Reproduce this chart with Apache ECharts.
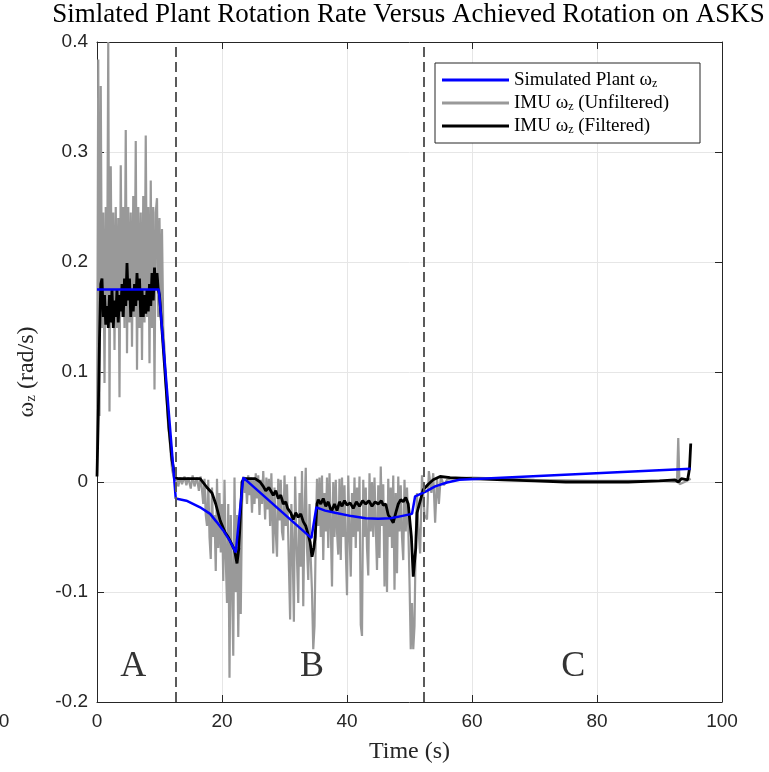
<!DOCTYPE html>
<html><head><meta charset="utf-8">
<script src="https://cdn.jsdelivr.net/npm/echarts@6/dist/echarts.min.js"></script>
<style>html,body{margin:0;padding:0;background:#fff}#c{width:769px;height:772px}</style>
</head><body><div id="c"></div>
<script>
const titleText = 'Simlated Plant Rotation Rate Versus Achieved Rotation on ASKS';
const xAxisTitle = 'Time (s)';
const yAxisTitle = ['ω', 'z', ' (rad/s)'];
const seriesNames = ['Simulated Plant', 'IMU Unfiltered', 'IMU Filtered'];
const legendTexts = [['Simulated Plant ', 'ω', 'z', ''], ['IMU ', 'ω', 'z', ' (Unfiltered)'], ['IMU ', 'ω', 'z', ' (Filtered)']];
const xRange = [0, 100, 20];
const yRange = [-0.2, 0.4, 0.1];
const phaseTimes = [12.6, 52.3];
const regionLabels = ['A', 'B', 'C'];
const regionLabelTime = [5.8, 34.4, 76.2];
const regionLabelValue = [-0.168, -0.168, -0.168];

const plantData = [[0,0.175],[9.9,0.175],[12.6,-0.015],[14.3,-0.017],[16.5,-0.023],[18.1,-0.029],[19.1,-0.036],[20.2,-0.044],[21.2,-0.053],[22.2,-0.064],[23.4,0.004],[34.3,-0.051],[35.1,-0.023],[36.5,-0.026],[38.1,-0.028],[40.7,-0.031],[43,-0.033],[45,-0.0335],[47,-0.033],[48.7,-0.031],[50.4,-0.029],[50.9,-0.013],[52.5,-0.009],[54.1,-0.004],[56,-0.0005],[58,0.002],[95,0.012]];

const rawData = [[0,0.02],[0.2,0.384],[0.4,0.06],[0.6,0.36],[0.8,0.14],[1.0,0.245],[1.2,0.09],[1.4,0.25],[1.6,0.15],[1.8,0.40],[2.0,0.064],[2.2,0.287],[2.4,0.145],[2.6,0.245],[2.8,0.12],[3.0,0.25],[3.2,0.14],[3.4,0.24],[3.6,0.077],[3.8,0.288],[4.0,0.15],[4.2,0.25],[4.4,0.14],[4.6,0.32],[4.8,0.117],[5.0,0.25],[5.2,0.145],[5.4,0.245],[5.6,0.123],[5.8,0.26],[6.0,0.15],[6.2,0.31],[6.4,0.102],[6.6,0.25],[6.8,0.14],[7.0,0.245],[7.2,0.111],[7.4,0.26],[7.6,0.145],[7.8,0.315],[8.0,0.15],[8.2,0.25],[8.4,0.108],[8.6,0.274],[8.8,0.14],[9.0,0.25],[9.2,0.084],[9.4,0.245],[9.6,0.258],[9.8,0.15],[10.0,0.24],[10.2,0.15],[10.4,0.23],[10.6,0.14],[10.8,0.12],[11.0,0.09],[11.2,0.07],[11.4,0.05],[11.6,0.04],[11.8,0.025],[12.0,0.012],[12.2,0.006],[12.4,0.002],
[12.8,0.002],[13.0,-0.004],[13.3,0.004],[13.6,-0.002],[14.0,0.005],[14.3,-0.003],[14.6,0.004],[15.0,-0.006],[15.3,0.006],[15.6,-0.004],[16.0,0.004],[16.3,-0.008],[16.6,0.005],
[17.0,-0.02],[17.2,0.003],[17.4,-0.03],[17.6,-0.04],[17.8,0.002],[18.0,-0.05],[18.2,-0.07],[18.4,-0.005],[18.6,-0.05],[18.8,-0.03],[19.0,-0.081],[19.2,0.003],[19.4,-0.06],[19.6,-0.01],[19.8,-0.064],[20.0,-0.02],[20.2,-0.09],[20.4,0.002],[20.6,-0.07],[20.8,-0.11],[21.0,-0.02],[21.2,-0.178],[21.4,-0.03],[21.6,-0.09],[21.8,-0.158],[22.0,0.004],[22.2,-0.10],[22.4,-0.03],[22.6,-0.141],[22.8,-0.06],[23.0,-0.12],[23.2,-0.02],
[23.4,0.005],[23.6,-0.01],[23.8,0.004],[24.0,-0.02],[24.2,0.006],[24.4,-0.012],[24.6,0.004],[24.8,-0.028],[25.0,0.003],[25.2,-0.02],[25.4,0.008],[25.6,-0.015],[25.8,0.006],[26.0,-0.03],[26.2,0.002],[26.4,-0.02],[26.6,0.01],[26.9,-0.034],[27.1,0.004],[27.3,-0.025],[27.5,0.003],[27.7,-0.04],[27.9,0.008],[28.2,-0.065],[28.4,-0.005],[28.6,-0.045],[28.8,-0.068],[29.0,0.003],[29.2,-0.035],[29.4,0.002],[29.6,-0.045],[29.8,-0.053],[30.0,0.006],[30.2,-0.04],[30.4,-0.002],[30.6,-0.05],[30.9,-0.125],[31.1,-0.02],[31.3,-0.06],[31.5,-0.127],[31.7,0.005],[31.9,-0.05],[32.2,-0.11],[32.4,-0.01],[32.6,-0.077],[32.8,0.01],[33.0,-0.113],[33.2,-0.03],[33.4,0.013],[33.6,-0.06],[33.8,-0.089],[34.0,-0.02],[34.2,-0.07],[34.4,-0.10],[34.6,-0.152],[34.8,-0.131],[35.0,-0.05],[35.2,0.003],[35.4,-0.04],[35.6,0.004],[35.8,-0.05],[36.0,0.006],[36.2,-0.071],[36.4,-0.01],[36.6,-0.045],[36.8,0.004],[37.0,-0.06],[37.2,0.008],[37.4,-0.04],[37.6,-0.095],[37.8,0.0],[38.0,-0.05],[38.2,0.002],[38.4,-0.045],[38.6,-0.066],[38.8,0.003],[39.0,-0.071],[39.2,0.004],[39.4,-0.05],[39.6,-0.003],[39.8,-0.06],[40.0,-0.103],[40.2,0.006],[40.4,-0.045],[40.6,-0.086],[40.8,-0.01],[41.0,-0.05],[41.2,0.004],[41.4,-0.06],[41.6,-0.005],[41.8,-0.045],[42.0,0.005],[42.2,-0.13],[42.4,-0.14],[42.6,0.002],[42.8,-0.05],[43.0,-0.005],[43.2,-0.06],[43.4,-0.085],[43.6,0.008],[43.8,-0.045],[44.0,0.0],[44.2,-0.05],[44.4,0.004],[44.6,-0.04],[44.8,-0.08],[45.0,-0.003],[45.2,-0.069],[45.4,0.014],[45.6,-0.04],[45.8,-0.002],[46.0,-0.095],[46.2,-0.02],[46.4,-0.1],[46.6,0.003],[46.8,-0.05],[47.0,-0.005],[47.2,-0.06],[47.4,0.006],[47.6,-0.098],[47.8,-0.01],[48.0,-0.083],[48.2,0.005],[48.4,-0.045],[48.6,-0.003],[48.8,-0.05],[49.0,-0.071],[49.2,0.002],[49.4,-0.045],[49.6,-0.005],[49.8,-0.04],[50.0,-0.09],[50.2,-0.152],[50.4,-0.11],[50.6,-0.152],[50.8,-0.131],[51.0,-0.05],[51.2,-0.01],[51.4,-0.04],[51.7,-0.065],
[52.0,0.006],[52.4,-0.03],[52.8,-0.034],[53.1,0.01],[53.5,-0.01],[53.8,0.008],[54.1,-0.037],[54.4,0.004],[54.7,-0.02],[55.0,0.005],[55.5,-0.003],[56.0,0.002],[56.5,0.003],[60,0.004],[70,0.002],[80,0.001],[90,0.001],[92.8,0.0],[93.0,0.04],[93.2,-0.002],[94,0.0],[95,0.003]];

const filteredData = [[0,0.005],[0.2,0.06],[0.4,0.13],[0.6,0.18],[0.8,0.185],[1.0,0.15],[1.2,0.17],[1.4,0.143],[1.6,0.16],[1.8,0.14],[2.0,0.17],[2.2,0.145],[2.4,0.175],[2.6,0.14],[2.8,0.165],[3.0,0.15],[3.2,0.175],[3.4,0.145],[3.6,0.17],[3.8,0.155],[4.0,0.18],[4.2,0.15],[4.4,0.185],[4.6,0.16],[4.8,0.199],[5.0,0.165],[5.2,0.185],[5.4,0.15],[5.6,0.175],[5.8,0.155],[6.0,0.18],[6.2,0.16],[6.4,0.19],[6.6,0.165],[6.8,0.185],[7.0,0.15],[7.2,0.175],[7.4,0.15],[7.6,0.17],[7.8,0.153],[8.0,0.175],[8.2,0.155],[8.4,0.18],[8.6,0.16],[8.8,0.19],[9.0,0.165],[9.2,0.195],[9.4,0.175],[9.6,0.19],[9.8,0.175],[10.0,0.17],[10.5,0.13],[11,0.09],[11.5,0.05],[12,0.02],[12.5,0.004],[13,0.003],[16.5,0.003],[17.6,-0.005],[18.4,-0.01],[19.0,-0.02],[19.7,-0.035],[20.5,-0.046],[21.0,-0.05],[21.6,-0.057],[22.0,-0.062],[22.4,-0.074],[22.7,-0.06],[23.2,0.0],[23.5,0.003],[25.3,0.003],[26.1,0.0],[26.6,-0.004],[27,-0.008],[27.5,-0.005],[28.2,-0.012],[28.6,-0.008],[29.0,-0.015],[29.4,-0.012],[29.8,-0.02],[30.2,-0.018],[30.5,-0.024],[31.0,-0.028],[31.4,-0.034],[31.8,-0.028],[32.2,-0.032],[32.6,-0.029],[33,-0.036],[33.4,-0.04],[33.8,-0.048],[34.1,-0.055],[34.4,-0.068],[34.7,-0.06],[34.9,-0.05],[35.2,-0.02],[35.4,-0.016],[35.8,-0.02],[36.2,-0.015],[36.6,-0.022],[37.0,-0.018],[37.5,-0.027],[38.0,-0.02],[38.4,-0.026],[38.8,-0.018],[39.2,-0.022],[39.6,-0.017],[40.0,-0.021],[40.5,-0.019],[41.0,-0.024],[41.5,-0.018],[42.0,-0.022],[42.5,-0.017],[43.0,-0.02],[43.5,-0.017],[44.0,-0.022],[44.5,-0.018],[45.0,-0.02],[45.5,-0.017],[45.8,-0.021],[46.2,-0.02],[46.6,-0.03],[47.0,-0.033],[47.4,-0.037],[47.8,-0.028],[48.2,-0.02],[48.6,-0.016],[49.0,-0.018],[49.4,-0.014],[49.8,-0.02],[50.3,-0.05],[50.6,-0.086],[51.0,-0.06],[51.2,-0.028],[52.2,-0.007],[53.0,-0.002],[53.8,0.002],[54.9,0.005],[56.5,0.004],[60,0.003],[65,0.002],[70,0.001],[75,0.0],[80,0.0],[85,0.0],[90,0.001],[92.5,0.002],[93,0.0],[93.5,0.003],[94.5,0.002],[94.8,0.012],[95,0.035]];

const SERIF = 'Liberation Serif';
const SANS = 'Liberation Sans';
const AX = '#262626';

function richSub(parts) {
  return parts[0] + '{w|' + parts[1] + '}{z|' + parts[2] + '}' + parts[3];
}

const chart = echarts.init(document.getElementById('c'), null, {renderer: 'canvas'});

const baseX = {type: 'value', min: xRange[0], max: xRange[1], interval: xRange[2]};
const baseY = {type: 'value', min: yRange[0], max: yRange[1], interval: yRange[2]};
const tick = {show: true, inside: true, length: 7, lineStyle: {color: AX, width: 1}};
const axLine = {show: true, onZero: false, lineStyle: {color: AX, width: 1}};

const option = {
  animation: false,
  backgroundColor: '#fff',
  grid: {left: 97, top: 42, width: 625, height: 660, show: false},
  xAxis: [
    Object.assign({}, baseX, {
      position: 'bottom', axisLine: axLine, axisTick: tick,
      axisLabel: {color: AX, fontSize: 19, fontFamily: SANS, margin: 10},
      splitLine: {show: true, lineStyle: {color: '#e6e6e6', width: 1}},
      name: xAxisTitle, nameLocation: 'middle', nameGap: 38,
      nameTextStyle: {fontFamily: SERIF, fontSize: 24, color: AX}
    }),
    Object.assign({}, baseX, {
      position: 'top', axisLine: axLine, axisTick: tick,
      axisLabel: {show: false}, splitLine: {show: false}
    })
  ],
  yAxis: [
    Object.assign({}, baseY, {
      position: 'left', axisLine: axLine, axisTick: tick,
      axisLabel: {color: AX, fontSize: 19, fontFamily: SANS, margin: 9,
        formatter: v => String(+v.toFixed(1))},
      splitLine: {show: true, lineStyle: {color: '#e6e6e6', width: 1}},
      name: richSub(['', yAxisTitle[0], yAxisTitle[1], yAxisTitle[2]]),
      nameLocation: 'middle', nameGap: 58, nameRotate: 90,
      nameTextStyle: {fontFamily: SERIF, fontSize: 24, color: AX,
        rich: {w: {fontFamily: SERIF, fontSize: 24, color: AX},
               z: {fontFamily: SERIF, fontSize: 15, color: AX, padding: [10, 0, 0, 0]}}}
    }),
    Object.assign({}, baseY, {
      position: 'right', axisLine: axLine, axisTick: tick,
      axisLabel: {show: false}, splitLine: {show: false}
    })
  ],
  legend: {
    orient: 'vertical', left: 435, top: 63, z: 6,
    padding: [7, 8, 6, 7], itemGap: 3, itemWidth: 67, itemHeight: 3, icon: 'rect',
    data: seriesNames,
    formatter: name => richSub(legendTexts[seriesNames.indexOf(name)]),
    textStyle: {fontFamily: SERIF, fontSize: 19, color: '#000', lineHeight: 20,
      rich: {w: {fontFamily: SERIF, fontSize: 19, color: '#000'},
             z: {fontFamily: SERIF, fontSize: 12, color: '#000', padding: [8, 0, 0, 0]}}}
  },
  graphic: [
    {type: 'rect', z: 5, shape: {x: 435, y: 63, width: 265, height: 80},
     style: {fill: '#fff', stroke: AX, lineWidth: 1}},
    {type: 'text', z: 10, x: 408.5, y: 15,
     style: {text: titleText, textAlign: 'center', textVerticalAlign: 'middle',
             font: '27px "' + SERIF + '"', fill: '#000'}},
    {type: 'text', z: 10, x: 4, y: 722,
     style: {text: '0', textAlign: 'center', textVerticalAlign: 'middle',
             font: '19px "' + SANS + '"', fill: AX}}
  ],
  series: [
    {name: seriesNames[1], type: 'line', data: rawData, symbol: 'none', z: 2,
     lineStyle: {color: '#999999', width: 2.2}, itemStyle: {color: '#999999'}},
    {name: seriesNames[2], type: 'line', data: filteredData, symbol: 'none', z: 3,
     lineStyle: {color: '#000000', width: 2.8}, itemStyle: {color: '#000000'}},
    {name: seriesNames[0], type: 'line', data: plantData, symbol: 'none', z: 4,
     lineStyle: {color: '#0000ff', width: 2.5}, itemStyle: {color: '#0000ff'},
     markLine: {silent: true, symbol: ['none', 'none'], label: {show: false},
       lineStyle: {type: [10, 5], color: '#5a5a5a', width: 2},
       data: phaseTimes.map(t => ({xAxis: t}))}},
    {name: 'regions', type: 'scatter', symbolSize: 0, z: 5,
     data: regionLabels.map((l, i) => [regionLabelTime[i], regionLabelValue[i]]),
     label: {show: true, position: 'inside', formatter: p => regionLabels[p.dataIndex],
       fontFamily: SERIF, fontSize: 36, color: '#000'}}
  ]
};
chart.setOption(option);
</script></body></html>
